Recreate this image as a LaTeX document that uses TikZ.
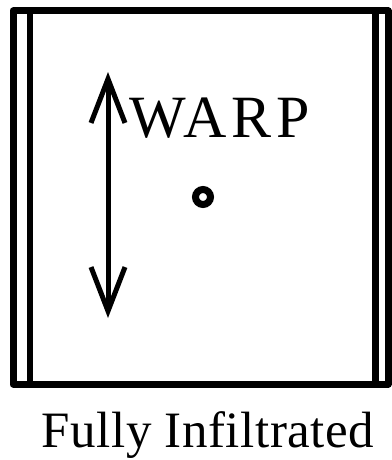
\documentclass[tikz,border=0pt]{standalone}
\usepackage{fontspec}
\setmainfont{Liberation Serif}
\usepackage{tikz}
\usetikzlibrary{arrows.meta, positioning, calc}

\begin{document}
\begin{tikzpicture}[x=1pt, y=-1pt,
      every node/.style={inner sep=0pt, outer sep=0pt},
      frame/.style={draw=black, line width=7pt, line join=round},
      inner/.style={draw=black, line width=6.5pt},
      arr/.style={{Straight Barb[length=44pt,width=34pt]}-{Straight Barb[length=44pt,width=34pt]}, line width=5pt, black},
      lbl/.style={font=\fontsize{60}{61}\selectfont\addfontfeatures{LetterSpace=8}},
      captxt/.style={font=\fontsize{51}{52}\selectfont\addfontfeatures{LetterSpace=1}},
    ]
    \useasboundingbox (0,0) rectangle (391,460);
    % cell boundary
    \draw[frame] (13,11) rectangle (388,384);
    \draw[inner] (30,11) -- (30,384);
    \draw[inner] (375.5,11) -- (375.5,384);

    % warp direction
    \coordinate (up) at (108,72);
    \coordinate (down) at (108,318);
    \draw[arr] (down) -- (up);
    \node[lbl, anchor=base west] (warp) at (129,137) {WARP};

    % fibre centre
    \node[draw=black, line width=7pt, circle, minimum size=15pt] (dot) at (203,197) {};

    \node[captxt, anchor=base] (title) at (208,447) {Fully Infiltrated};
    \end{tikzpicture}
\end{document}
